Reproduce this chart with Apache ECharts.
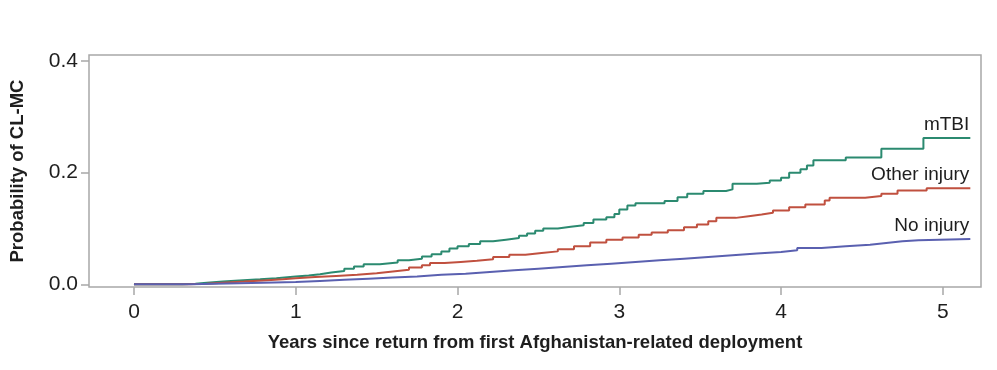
<!DOCTYPE html>
<html>
<head>
<meta charset="utf-8">
<script src="https://cdn.jsdelivr.net/npm/echarts@6/dist/echarts.min.js"></script>
<style>
html,body{margin:0;padding:0;background:#fff;}
#chart{width:997px;height:370px;}
</style>
</head>
<body>
<div id="chart"></div>
<script>
// ---- data ----
const seriesNames = ['mTBI', 'Other injury', 'No injury'];
const xTicks = [0, 1, 2, 3, 4, 5];
const yTicks = [0, 0.2, 0.4];

const mtbiTime = [0, 0.30, 0.38, 0.45, 0.55, 0.65, 0.78, 0.88, 1.00, 1.08, 1.15, 1.22, 1.30, 1.36, 1.42, 1.52, 1.63, 1.70, 1.78, 1.84, 1.90, 1.95, 2.00, 2.07, 2.14, 2.22, 2.30, 2.38, 2.43, 2.48, 2.53, 2.62, 2.70, 2.78, 2.84, 2.92, 2.97, 3.00, 3.05, 3.10, 3.28, 3.36, 3.42, 3.52, 3.66, 3.70, 3.85, 3.93, 4.00, 4.05, 4.12, 4.16, 4.20, 4.40, 4.62, 4.88, 5.17];
const mtbiProb = [0, 0.001, 0.003, 0.005, 0.007, 0.009, 0.011, 0.014, 0.016, 0.018, 0.021, 0.024, 0.028, 0.032, 0.036, 0.039, 0.043, 0.046, 0.050, 0.054, 0.059, 0.064, 0.068, 0.072, 0.077, 0.080, 0.083, 0.087, 0.091, 0.096, 0.100, 0.103, 0.106, 0.110, 0.116, 0.120, 0.126, 0.134, 0.141, 0.145, 0.149, 0.156, 0.162, 0.167, 0.170, 0.180, 0.182, 0.186, 0.191, 0.200, 0.206, 0.213, 0.222, 0.227, 0.243, 0.262, 0.262];

const otherTime = [0, 0.33, 0.45, 0.55, 0.68, 0.80, 0.92, 1.00, 1.12, 1.25, 1.38, 1.50, 1.60, 1.70, 1.78, 1.83, 1.92, 2.02, 2.12, 2.22, 2.32, 2.42, 2.52, 2.62, 2.72, 2.82, 2.92, 3.02, 3.12, 3.20, 3.30, 3.40, 3.48, 3.55, 3.60, 3.72, 3.80, 3.88, 3.95, 4.05, 4.15, 4.27, 4.30, 4.52, 4.62, 4.72, 4.90, 5.17];
const otherProb = [0, 0.001, 0.003, 0.005, 0.007, 0.009, 0.011, 0.013, 0.015, 0.017, 0.020, 0.023, 0.026, 0.030, 0.034, 0.038, 0.040, 0.042, 0.045, 0.049, 0.053, 0.056, 0.059, 0.063, 0.068, 0.075, 0.080, 0.084, 0.089, 0.093, 0.097, 0.102, 0.107, 0.113, 0.119, 0.122, 0.125, 0.128, 0.132, 0.138, 0.143, 0.150, 0.155, 0.158, 0.162, 0.168, 0.172, 0.172];

const noneTime = [0, 0.35, 0.50, 0.65, 0.80, 1.00, 1.15, 1.30, 1.45, 1.60, 1.75, 1.90, 2.05, 2.20, 2.35, 2.50, 2.65, 2.80, 2.95, 3.10, 3.25, 3.40, 3.55, 3.70, 3.85, 4.00, 4.10, 4.25, 4.40, 4.55, 4.65, 4.75, 4.85, 5.17];
const noneProb = [0, 0.001, 0.002, 0.003, 0.004, 0.006, 0.008, 0.010, 0.012, 0.014, 0.017, 0.019, 0.022, 0.025, 0.028, 0.031, 0.034, 0.037, 0.040, 0.043, 0.046, 0.049, 0.052, 0.055, 0.058, 0.061, 0.065, 0.068, 0.071, 0.074, 0.077, 0.079, 0.081, 0.081];

const colors = ['#2b8a70', '#c0503f', '#5a60b0'];

// ---- chart ----
const zip = (t, p) => t.map((v, i) => [v, p[i]]);
const seriesData = [zip(mtbiTime, mtbiProb), zip(otherTime, otherProb), zip(noneTime, noneProb)];

const chart = echarts.init(document.getElementById('chart'), null, {renderer: 'canvas'});
const font = 'Liberation Sans, Arial, Helvetica, sans-serif';
const txt = '#1e1e1e';
const frame = '#a8a8a8';

chart.setOption({
  animation: false,
  backgroundColor: '#fff',
  textStyle: {fontFamily: font},
  grid: {left: 88, right: 16, top: 55, bottom: 83, show: true, borderColor: frame, borderWidth: 1.5, backgroundColor: 'transparent'},
  xAxis: {
    type: 'value', min: -0.278, max: 5.236,
    axisLine: {show: false, onZero: false},
    splitLine: {show: false},
    axisTick: {show: true, customValues: xTicks, length: 8, lineStyle: {color: frame, width: 1.5}},
    axisLabel: {customValues: xTicks, fontSize: 21, color: txt, margin: 15, fontFamily: font},
    name: 'Years since return from first Afghanistan-related deployment',
    nameLocation: 'middle', nameGap: 46,
    nameTextStyle: {fontSize: 18.5, fontWeight: 'bold', color: txt, fontFamily: font}
  },
  yAxis: {
    type: 'value', min: -0.0048, max: 0.4107,
    axisLine: {show: false, onZero: false},
    splitLine: {show: false},
    axisTick: {show: true, customValues: yTicks, length: 8, lineStyle: {color: frame, width: 1.5}},
    axisLabel: {customValues: yTicks, fontSize: 21, color: txt, margin: 11, fontFamily: font, formatter: v => v.toFixed(1)},
    name: 'Probability of CL-MC',
    nameLocation: 'middle', nameGap: 62,
    nameTextStyle: {fontSize: 18.5, fontWeight: 'bold', color: txt, fontFamily: font}
  },
  series: seriesNames.map((n, i) => ({
    name: n, type: 'line', step: 'end', symbol: 'none',
    data: seriesData[i],
    lineStyle: {color: colors[i], width: 2},
    itemStyle: {color: colors[i]}
  }))
});

// end labels anchored at last data point of each series
const graphics = seriesNames.map((n, i) => {
  const last = seriesData[i][seriesData[i].length - 1];
  const p = chart.convertToPixel({gridIndex: 0}, last);
  return {
    type: 'text', x: p[0] - 1, y: p[1] - 4,
    style: {text: n, align: 'right', verticalAlign: 'bottom', fontSize: 19, fill: txt, fontFamily: font}
  };
});
chart.setOption({graphic: graphics});
</script>
</body>
</html>
